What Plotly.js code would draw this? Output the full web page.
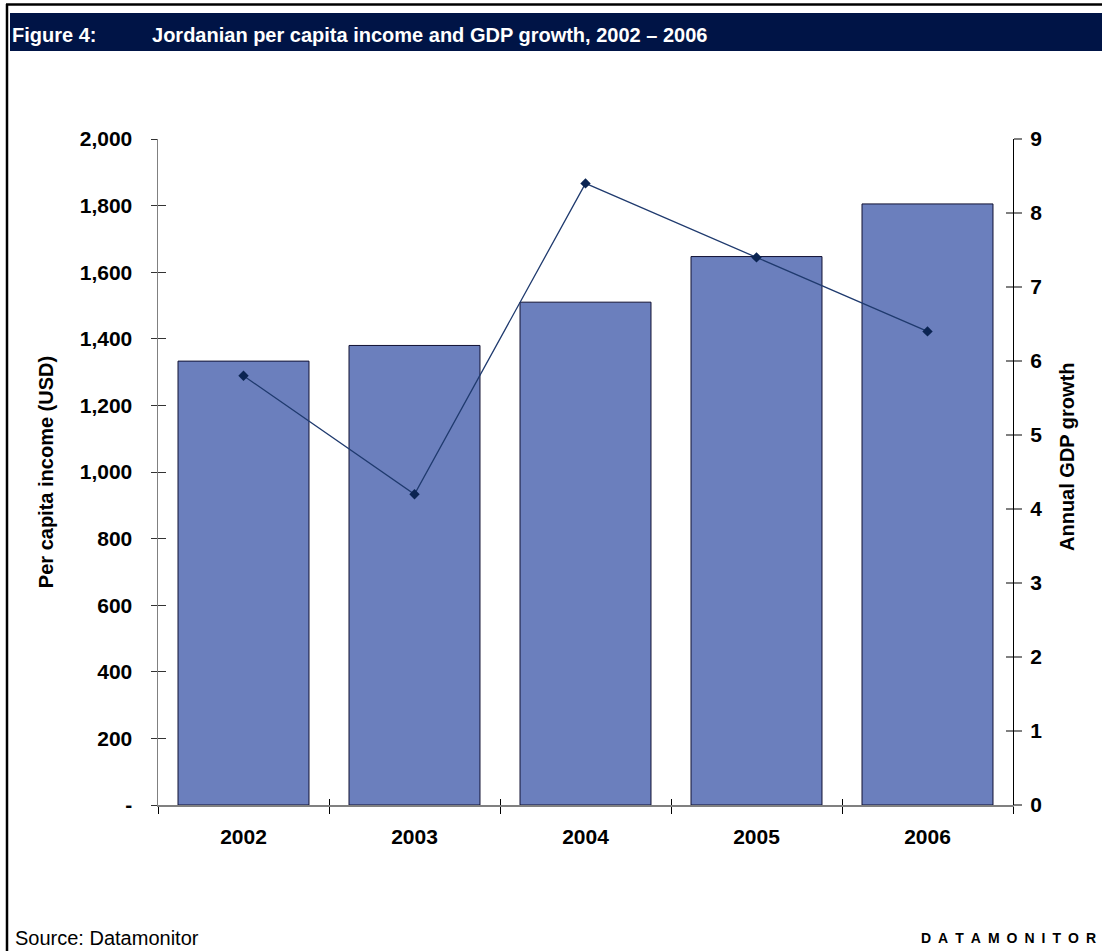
<!DOCTYPE html>
<html>
<head>
<meta charset="utf-8">
<script src="https://cdn.plot.ly/plotly-3.0.1.min.js"></script>
<style>
html,body{margin:0;padding:0;background:#fff;}
#chart{width:1102px;height:951px;}
</style>
</head>
<body>
<div id="chart"></div>
<script>
// ---- data ----
const years = ['2002', '2003', '2004', '2005', '2006'];
const incomeUSD = [1333, 1380, 1510, 1647, 1805];
const gdpGrowth = [5.8, 4.2, 8.4, 7.4, 6.4];
const incomeTickVals = [0, 200, 400, 600, 800, 1000, 1200, 1400, 1600, 1800, 2000];
const incomeTickText = ['-', '200', '400', '600', '800', '1,000', '1,200', '1,400', '1,600', '1,800', '2,000'];
const growthTickVals = [0, 1, 2, 3, 4, 5, 6, 7, 8, 9];

// ---- layout helpers (decoration positions, pixel -> paper) ----
const W = 1102, H = 951;
const M = {l: 158, r: 89, t: 139, b: 146};
const PW = W - M.l - M.r, PH = H - M.t - M.b;
const px = v => (v - M.l) / PW;
const py = v => (H - M.b - v) / PH;

const FONT = 'Liberation Sans, Arial, Helvetica, sans-serif';
const bold = (size, color) => ({family: FONT, size: size, color: color || '#000', weight: 'bold'});

const traces = [
  {
    type: 'bar', x: years, y: incomeUSD, xaxis: 'x', yaxis: 'y',
    marker: {color: '#6b7fbd', line: {color: '#111133', width: 1}},
    hoverinfo: 'x+y', showlegend: false
  },
  {
    type: 'scatter', mode: 'lines+markers', x: years, y: gdpGrowth, xaxis: 'x', yaxis: 'y2',
    line: {color: '#1f3a6e', width: 1.3},
    marker: {symbol: 'diamond', size: 8, color: '#0b2452'},
    showlegend: false
  },
  // invisible helpers so that the inner half of the crossing tick marks is drawn
  {type: 'scatter', mode: 'markers', x: years, y: incomeUSD, xaxis: 'x2', yaxis: 'y3',
   marker: {opacity: 0}, hoverinfo: 'skip', showlegend: false},
  {type: 'scatter', mode: 'markers', x: years, y: gdpGrowth, xaxis: 'x2', yaxis: 'y4',
   marker: {opacity: 0}, hoverinfo: 'skip', showlegend: false}
];

const layout = {
  width: W, height: H, autosize: false,
  margin: M,
  paper_bgcolor: '#ffffff', plot_bgcolor: '#ffffff',
  font: {family: FONT, color: '#000'},
  bargap: 0.234,
  title: {
    text: 'Figure 4:\u00a0\u00a0\u00a0\u00a0\u00a0\u00a0\u00a0\u00a0\u00a0\u00a0Jordanian per capita income and GDP growth, 2002 \u2013 2006',
    font: bold(20, '#ffffff'),
    x: 12 / W, xanchor: 'left', xref: 'container',
    y: 1 - 35 / H, yanchor: 'middle', yref: 'container'
  },
  xaxis: {
    type: 'category', range: [-0.5, 4.5],
    tickson: 'boundaries', ticks: 'outside', ticklen: 7, tickcolor: '#000', tickwidth: 1,
    showline: true, linecolor: '#808080', linewidth: 1.5,
    showgrid: false, zeroline: false,
    tickfont: bold(21), ticklabelstandoff: 12
  },
  xaxis2: {
    type: 'category', range: [-0.5, 4.5], overlaying: 'x', anchor: 'y3',
    tickson: 'boundaries', ticks: 'inside', ticklen: 6, tickcolor: '#000', tickwidth: 1,
    showticklabels: false, showline: false, showgrid: false, zeroline: false
  },
  yaxis: {
    range: [0, 2000], tickvals: incomeTickVals, ticktext: incomeTickText,
    ticks: 'outside', ticklen: 6, tickcolor: '#333', tickwidth: 1,
    showline: true, linecolor: '#808080', linewidth: 1.5,
    showgrid: false, zeroline: false,
    tickfont: bold(21), ticklabelstandoff: 14,
    title: {text: 'Per capita income (USD)', font: bold(20), standoff: 20}
  },
  yaxis3: {
    range: [0, 2000], tickvals: incomeTickVals, overlaying: 'y', side: 'left', anchor: 'x2',
    ticks: 'inside', ticklen: 8, tickcolor: '#333', tickwidth: 1,
    showticklabels: false, showline: false, showgrid: false, zeroline: false
  },
  yaxis2: {
    range: [0, 9], tickvals: growthTickVals, overlaying: 'y', side: 'right', anchor: 'x',
    ticks: 'outside', ticklen: 8, tickcolor: '#808080', tickwidth: 1.5,
    showline: true, linecolor: '#000', linewidth: 1,
    showgrid: false, zeroline: false,
    tickfont: bold(21), ticklabelstandoff: 4
  },
  yaxis4: {
    range: [0, 9], tickvals: growthTickVals, overlaying: 'y', side: 'right', anchor: 'x2',
    ticks: 'inside', ticklen: 7, tickcolor: '#808080', tickwidth: 1.5,
    showticklabels: false, showline: false, showgrid: false, zeroline: false
  },
  shapes: [
    // navy header band
    {type: 'rect', xref: 'paper', yref: 'paper', layer: 'below',
     x0: px(10), x1: px(W + 5), y0: py(51), y1: py(13),
     fillcolor: '#001446', line: {width: 0}},
    // frame: top and left rules
    {type: 'line', xref: 'paper', yref: 'paper', x0: px(6), x1: px(W + 5), y0: py(4.5), y1: py(4.5),
     line: {color: '#000', width: 2.5}},
    {type: 'line', xref: 'paper', yref: 'paper', x0: px(7), x1: px(7), y0: py(4), y1: py(H + 5),
     line: {color: '#000', width: 2.5}}
  ],
  annotations: [
    {text: 'Annual GDP growth', xref: 'paper', yref: 'paper', textangle: -90,
     x: px(1067), y: py(457), xanchor: 'center', yanchor: 'middle', showarrow: false,
     font: bold(20)},
    {text: 'Source: Datamonitor', xref: 'paper', yref: 'paper',
     x: px(13), y: py(938), xanchor: 'left', yanchor: 'middle', showarrow: false,
     font: {family: FONT, size: 20, color: '#000'}},
    {text: 'D\u2002A\u2002T\u2002A\u2002M\u2002O\u2002N\u2002I\u2002T\u2002O\u2002R', xref: 'paper', yref: 'paper',
     x: px(1098), y: py(938), xanchor: 'right', yanchor: 'middle', showarrow: false,
     font: bold(14)}
  ]
};

Plotly.newPlot('chart', traces, layout, {displayModeBar: false, staticPlot: true});
</script>
</body>
</html>
